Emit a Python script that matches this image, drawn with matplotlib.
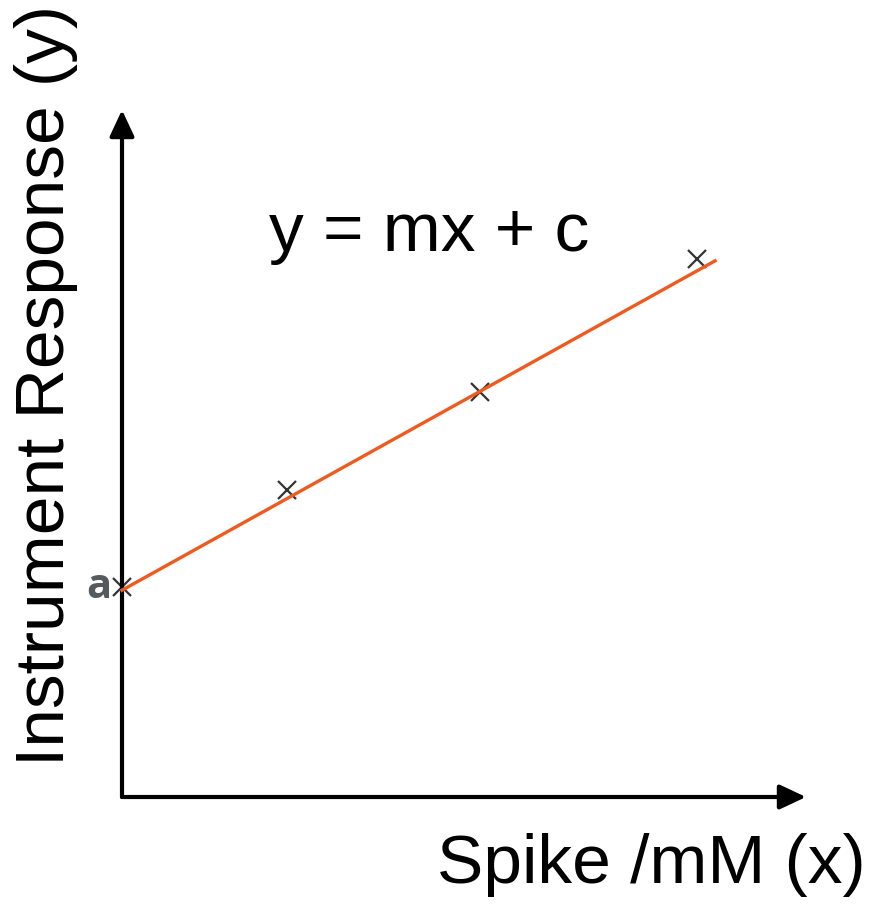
import matplotlib.pyplot as plt

# Points d'étalonnage (unités arbitraires)
spike = [0.0, 2.41, 5.23, 8.41]
response = [3.06, 4.47, 5.90, 7.83]

# Droite y = mx + c
line_x = [0.0, 8.67]
slope = 0.553
intercept = 3.01

W, H = 874, 907
fig = plt.figure(figsize=(W / 100, H / 100), dpi=100)
ax = fig.add_axes([122 / W, (H - 797) / H, (806 - 122) / W, (797 - 110) / H])
ax.set_xlim(0, 10)
ax.set_ylim(0, 10)
ax.axis("off")

# Axes avec flèches
arrow = dict(arrowstyle="-|>,head_length=1.6,head_width=0.75", lw=3, color="black",
             shrinkA=0, shrinkB=0)
ax.annotate("", xy=(10, 0), xytext=(0, 0), arrowprops=arrow)
ax.annotate("", xy=(0, 10), xytext=(0, 0), arrowprops=arrow)

fit_y = [slope * x + intercept for x in line_x]
ax.plot(line_x, fit_y, color="#f05a1e", lw=2.4, zorder=3, clip_on=False)
ax.plot(spike, response, "x", color="#333333", markersize=13, mew=1.6, zorder=2, clip_on=False)

font = "Liberation Sans"
fig.text(429 / W, 1 - 233 / H, "y = mx + c", fontsize=50, family=font,
         ha="center", va="center")
fig.text(651 / W, 1 - 865 / H, "Spike /mM (x)", fontsize=50, family=font,
         ha="center", va="center")
fig.text(46 / W, 1 - 386 / H, "Instrument Response (y)", fontsize=50, family=font,
         ha="center", va="center", rotation=90)
fig.text(99 / W, 1 - 588 / H, "a", fontsize=30, family="Open Sans", weight="bold",
         color="#555a5f", ha="center", va="center")

fig.savefig("out.png", dpi=100)
